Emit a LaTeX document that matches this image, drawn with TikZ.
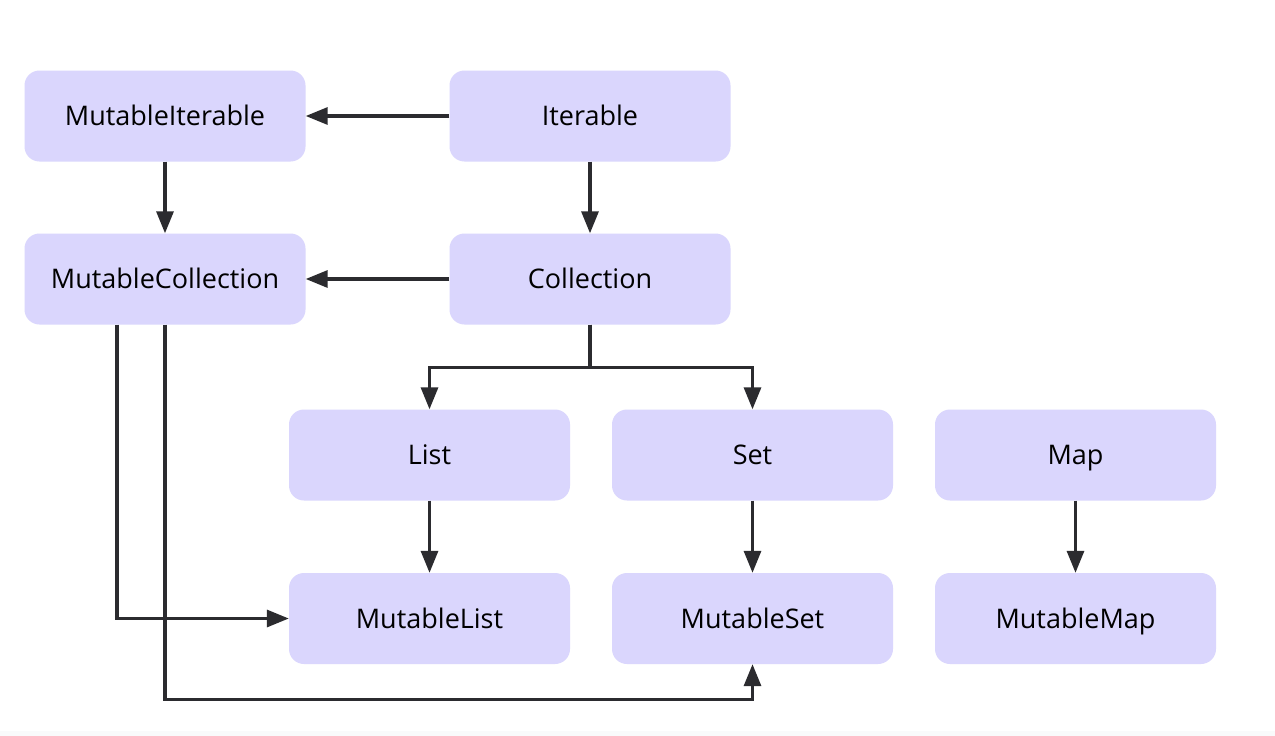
\documentclass[tikz,border=0pt]{standalone}
\usepackage{fontspec}
\setmainfont{Open Sans}
\usetikzlibrary{arrows.meta}
\definecolor{boxfill}{HTML}{DAD6FD}
\definecolor{linec}{HTML}{2B2B2F}
\definecolor{strip}{HTML}{F9FAFB}
\begin{document}
\begin{tikzpicture}[x=1pt,y=-1pt,
  cls/.style={draw=none,fill=boxfill,rounded corners=15pt,minimum width=281pt,minimum height=91pt,inner sep=0pt,font=\fontsize{27}{32}\selectfont,text=black,text height=19.3pt,text depth=0pt},
  arr/.style={draw=linec,line width=3.2pt,-{Triangle[length=22pt,width=17pt]}}]
\useasboundingbox (0,0) rectangle (1275,736);
\fill[white] (0,0) rectangle (1275,736);
\fill[strip] (0,731) rectangle (1275,736);
\node[cls] (mit) at (165,116) {MutableIterable};
\node[cls] (it) at (590,116) {Iterable};
\node[cls] (mcol) at (165,279) {MutableCollection};
\node[cls] (col) at (590,279) {Collection};
\node[cls] (list) at (429.5,455) {List};
\node[cls] (set) at (752.5,455) {Set};
\node[cls] (map) at (1075.5,455) {Map};
\node[cls] (mlist) at (429.5,618.5) {MutableList};
\node[cls] (mset) at (752.5,618.5) {MutableSet};
\node[cls] (mmap) at (1075.5,618.5) {MutableMap};
\draw[arr] (it.west) -- (mit.east);
\draw[arr] (mit.south) -- (mcol.north);
\draw[arr] (it.south) -- (col.north);
\draw[arr] (col.west) -- (mcol.east);
\draw[arr] (col.south) -- ++(0,43) -| (list.north);
\draw[arr] (col.south) -- ++(0,43) -| (set.north);
\draw[arr] (list.south) -- (mlist.north);
\draw[arr] (set.south) -- (mset.north);
\draw[arr] (map.south) -- (mmap.north);
\draw[arr] ([xshift=-48pt]mcol.south) |- (mlist.west);
\draw[arr] (mcol.south) -- ++(0,375) -| (mset.south);
\end{tikzpicture}
\end{document}
